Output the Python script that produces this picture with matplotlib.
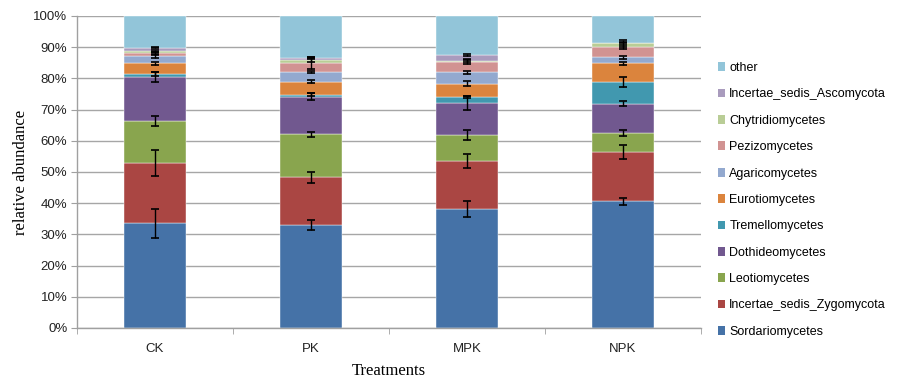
import matplotlib
matplotlib.use("Agg")
import matplotlib.pyplot as plt
import numpy as np
from matplotlib.patches import Patch

treatments = ["CK", "PK", "MPK", "NPK"]
classes = ["Sordariomycetes", "Incertae_sedis_Zygomycota", "Leotiomycetes",
           "Dothideomycetes", "Tremellomycetes", "Eurotiomycetes",
           "Agaricomycetes", "Pezizomycetes", "Chytridiomycetes",
           "Incertae_sedis_Ascomycota", "other"]

# percentage values per class for CK, PK, MPK, NPK
sordariomycetes = [33.6, 33.0, 38.1, 40.6]
zygomycota      = [19.2, 15.3, 15.5, 15.7]
leotiomycetes   = [13.4, 13.8, 8.3, 6.3]
dothideomycetes = [14.4, 12.0, 10.1, 9.3]
tremellomycetes = [0.8, 0.7, 2.0, 6.9]
eurotiomycetes  = [3.4, 4.2, 4.3, 6.0]
agaricomycetes  = [2.4, 3.0, 3.6, 1.9]
pezizomycetes   = [0.9, 3.0, 3.5, 3.3]
chytridiomycetes = [0.7, 0.9, 0.3, 1.2]
ascomycota      = [1.1, 0.7, 1.8, 0.3]
other           = [10.1, 13.4, 12.5, 8.5]

# standard errors (shown at segment tops)
err_sordario = [4.6, 1.5, 2.5, 1.1]
err_zygo     = [4.2, 1.8, 2.2, 2.2]
err_leotio   = [1.6, 0.8, 1.5, 1.0]
err_dothideo = [1.6, 1.1, 2.2, 0.8]
err_tremello = [0.5, 0.5, 0.4, 1.6]
err_eurotio  = [0.5, 0.6, 0.8, 0.6]
err_agarico  = [0.7, 0.4, 0.5, 0.6]
err_pezizo   = [0.5, 2.0, 0.8, 0.6]
err_chytrid  = [0.3, 0.5, 0.3, 1.0]
err_asco     = [0.3, 0.3, 0.3, 0.3]

series = [sordariomycetes, zygomycota, leotiomycetes, dothideomycetes,
          tremellomycetes, eurotiomycetes, agaricomycetes, pezizomycetes,
          chytridiomycetes, ascomycota, other]
errors = [err_sordario, err_zygo, err_leotio, err_dothideo, err_tremello,
          err_eurotio, err_agarico, err_pezizo, err_chytrid, err_asco, None]
colors = ["#4572A7", "#AA4643", "#89A54E", "#71588F", "#4198AF", "#DB843D",
          "#93A9CF", "#D19392", "#B9CD96", "#A99BBD", "#92C5D9"]

fig = plt.figure(figsize=(9.09, 3.81), dpi=100)
ax = fig.add_axes([77/909, 1 - 328/381, 624/909, 312/381])

x = np.arange(len(treatments))
bottom = np.zeros(len(treatments))
tops = []
for vals, c in zip(series, colors):
    v = np.array(vals)
    ax.bar(x, v, width=0.40, bottom=bottom, color=c, zorder=2,
           edgecolor="white", linewidth=0.3)
    bottom = bottom + v
    tops.append(bottom.copy())

for top, err in zip(tops, errors):
    if err is None:
        continue
    ax.errorbar(x, np.minimum(top, 100), yerr=err, fmt="none", ecolor="black",
                elinewidth=1.0, capsize=2.8, capthick=1.2, zorder=4)

ax.set_xlim(-0.5, 3.5)
ax.set_ylim(0, 100)
ax.set_yticks(np.arange(0, 101, 10))
ax.set_yticklabels([f"{t}%" for t in range(0, 101, 10)])
ax.set_xticks(x)
ax.set_xticklabels(treatments)
ax.set_xticks(np.arange(-0.5, 3.6, 1), minor=True)
ax.tick_params(axis="x", which="major", length=0, pad=11, labelsize=9.5)
ax.tick_params(axis="x", which="minor", length=4, color="#A0A0A0", direction="out")
ax.tick_params(axis="y", length=4, color="#A0A0A0", labelsize=9.5, pad=3)
ax.yaxis.grid(True, color="#A6A6A6", linewidth=1.0, zorder=0)
ax.set_axisbelow(True)
for s in ["top", "right"]:
    ax.spines[s].set_visible(False)
for s in ["left", "bottom"]:
    ax.spines[s].set_color("#A0A0A0")
    ax.spines[s].set_linewidth(1.0)

for lbl in ax.get_xticklabels() + ax.get_yticklabels():
    lbl.set_fontfamily("Liberation Sans")
    lbl.set_color("#222222")

ax.set_ylabel("relative abundance", fontfamily="Liberation Serif", fontsize=12, labelpad=3)
fig.text(389/909, 1 - 371/381, "Treatments", fontfamily="Liberation Serif",
         fontsize=12, ha="center", va="center")

handles = [Patch(facecolor=c, edgecolor="none") for c in colors]
leg = fig.legend(handles[::-1], classes[::-1], loc="upper left",
                 bbox_to_anchor=(713/909, 1 - 57/381), frameon=False,
                 prop={"family": "Liberation Sans", "size": 9},
                 handlelength=0.55, handleheight=0.7, handletextpad=0.35,
                 labelspacing=1.15, borderaxespad=0)

fig.savefig("out.png", dpi=100)
